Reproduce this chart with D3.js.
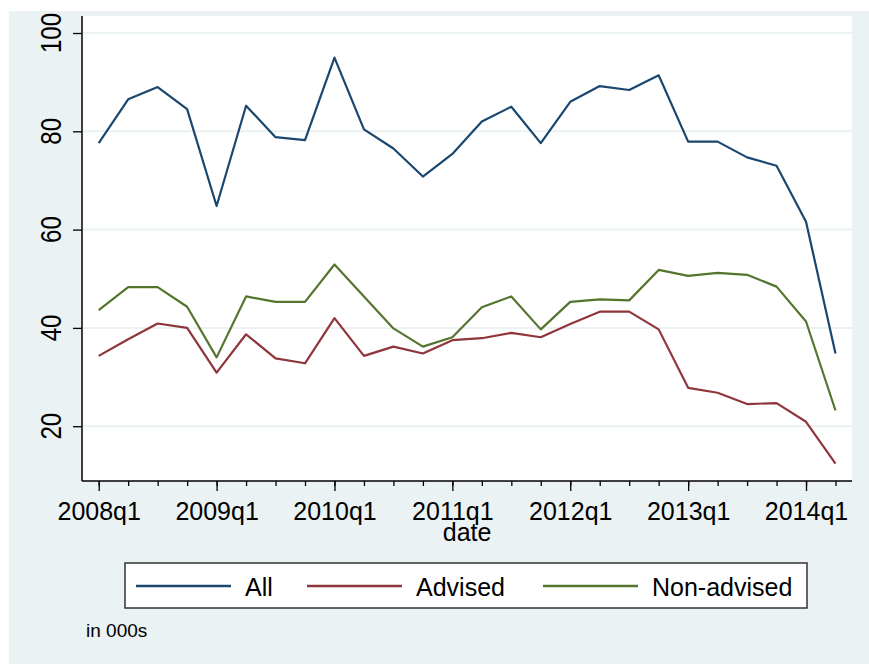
<!DOCTYPE html>
<html>
<head>
<meta charset="utf-8">
<script src="https://cdn.jsdelivr.net/npm/d3@7"></script>
<style>
  body { margin: 0; background: #fff; }
  svg { display: block; font-family: "Liberation Sans", Arial, sans-serif; }
</style>
</head>
<body>
<script>
(function(){

	//quarters 2008q1 .. 2014q2
	var quarters = ["2008q1","2008q2","2008q3","2008q4","2009q1","2009q2","2009q3","2009q4",
		"2010q1","2010q2","2010q3","2010q4","2011q1","2011q2","2011q3","2011q4",
		"2012q1","2012q2","2012q3","2012q4","2013q1","2013q2","2013q3","2013q4",
		"2014q1","2014q2"];

	//series values, in 000s
	var allVals = [77.6, 86.5, 89.0, 84.5, 64.8, 85.2, 78.8, 78.2, 95.0, 80.4, 76.5, 70.8,
		75.4, 82.0, 85.0, 77.6, 86.0, 89.2, 88.4, 91.4, 77.9, 77.9, 74.7, 73.0, 61.6, 34.8];
	var advisedVals = [34.3, 37.7, 40.9, 40.0, 30.9, 38.7, 33.8, 32.8, 42.0, 34.3, 36.2, 34.8,
		37.5, 37.9, 39.0, 38.1, 40.8, 43.3, 43.3, 39.7, 27.8, 26.8, 24.5, 24.7, 20.9, 12.4];
	var nonAdvisedVals = [43.6, 48.3, 48.3, 44.3, 34.0, 46.4, 45.3, 45.3, 52.9, 46.4, 39.9, 36.2,
		38.1, 44.2, 46.4, 39.7, 45.3, 45.8, 45.6, 51.8, 50.6, 51.2, 50.8, 48.4, 41.3, 23.2];

	var yTicks = [20, 40, 60, 80, 100];
	var xMajor = [0, 4, 8, 12, 16, 20, 24];

	var seriesNames = ["All", "Advised", "Non-advised"];
	var seriesColors = ["#1a476f", "#90353b", "#55752f"];
	var seriesData = [allVals, advisedVals, nonAdvisedVals];

	var width = 869, height = 664;

	var svg = d3.select("body").append("svg")
		.attr("width", width)
		.attr("height", height);

	//outer graph region
	svg.append("rect")
		.attr("x", 9).attr("y", 11)
		.attr("width", width - 9).attr("height", 653)
		.attr("fill", "#eaf2f3");

	//plot region
	var left = 82, right = 852, top = 16, bottom = 481;
	svg.append("rect")
		.attr("x", left).attr("y", top)
		.attr("width", right - left).attr("height", bottom - top)
		.attr("fill", "#ffffff");

	var x = d3.scaleLinear().domain([-0.567, 25.56]).range([left, right]);
	var y = d3.scaleLinear().domain([8.85, 103.46]).range([bottom, top]);

	//grid lines
	svg.append("g").selectAll("line")
		.data(yTicks)
		.enter().append("line")
		.attr("x1", left).attr("x2", right)
		.attr("y1", function(d){ return y(d); })
		.attr("y2", function(d){ return y(d); })
		.attr("stroke", "#eaf2f3")
		.attr("stroke-width", 2);

	//y axis
	var yAxis = svg.append("g")
		.attr("transform", "translate(" + left + ",0)")
		.call(d3.axisLeft(y).tickValues(yTicks).tickSize(9).tickFormat(""));
	yAxis.select(".domain").attr("stroke", "#000").attr("stroke-width", 1.5)
		.attr("d", "M0," + top + "V" + bottom);
	yAxis.selectAll(".tick line").attr("stroke", "#000").attr("stroke-width", 1.3);

	//rotated y labels, glyphs a bit wider like the original
	svg.append("g").selectAll("text")
		.data(yTicks)
		.enter().append("text")
		.attr("transform", function(d){ return "translate(61," + y(d) + ") rotate(-90) scale(1,1.2)"; })
		.attr("text-anchor", "middle")
		.style("font-size", "24px")
		.attr("fill", "#000")
		.text(function(d){ return d; });

	//x axis, minor ticks every quarter
	var xAxisMinor = svg.append("g")
		.attr("transform", "translate(0," + bottom + ")")
		.call(d3.axisBottom(x).tickValues(d3.range(quarters.length)).tickSize(5).tickFormat(""));
	xAxisMinor.select(".domain").attr("stroke", "#000").attr("stroke-width", 1.5)
		.attr("d", "M" + left + ",0H" + right);
	xAxisMinor.selectAll(".tick line").attr("stroke", "#000").attr("stroke-width", 1.3);

	var xAxisMajor = svg.append("g")
		.attr("transform", "translate(0," + bottom + ")")
		.call(d3.axisBottom(x).tickValues(xMajor).tickSize(10).tickPadding(11)
			.tickFormat(function(d){ return quarters[d]; }));
	xAxisMajor.select(".domain").remove();
	xAxisMajor.selectAll(".tick line").attr("stroke", "#000").attr("stroke-width", 1.3);
	xAxisMajor.selectAll(".tick text")
		.style("font-size", "25px")
		.style("font-family", "\"Liberation Sans\", Arial, sans-serif")
		.attr("fill", "#000");

	//axis title
	svg.append("text")
		.attr("x", x(12.5)).attr("y", 541)
		.attr("text-anchor", "middle")
		.style("font-size", "25px")
		.text("date");

	//lines
	var line = d3.line()
		.x(function(d, i){ return x(i); })
		.y(function(d){ return y(d); });

	svg.append("g").selectAll("path")
		.data(seriesData)
		.enter().append("path")
		.attr("d", line)
		.attr("fill", "none")
		.attr("stroke", function(d, i){ return seriesColors[i]; })
		.attr("stroke-width", 2.2)
		.attr("stroke-linejoin", "round");

	//legend
	svg.append("rect")
		.attr("x", 125).attr("y", 563)
		.attr("width", 682).attr("height", 45)
		.attr("fill", "#fff")
		.attr("stroke", "#333")
		.attr("stroke-width", 1.5);

	var legendX = [136, 307, 543];
	var legend = svg.append("g").selectAll("g")
		.data(seriesNames)
		.enter().append("g")
		.attr("transform", function(d, i){ return "translate(" + legendX[i] + ",0)"; });
	legend.append("line")
		.attr("x1", 0).attr("x2", 95)
		.attr("y1", 586).attr("y2", 586)
		.attr("stroke", function(d, i){ return seriesColors[i]; })
		.attr("stroke-width", 2.5);
	legend.append("text")
		.attr("x", 109).attr("y", 596)
		.style("font-size", "25px")
		.text(function(d){ return d; });

	//note
	svg.append("text")
		.attr("x", 86).attr("y", 637)
		.style("font-size", "19px")
		.text("in 000s");

})();
</script>
</body>
</html>
